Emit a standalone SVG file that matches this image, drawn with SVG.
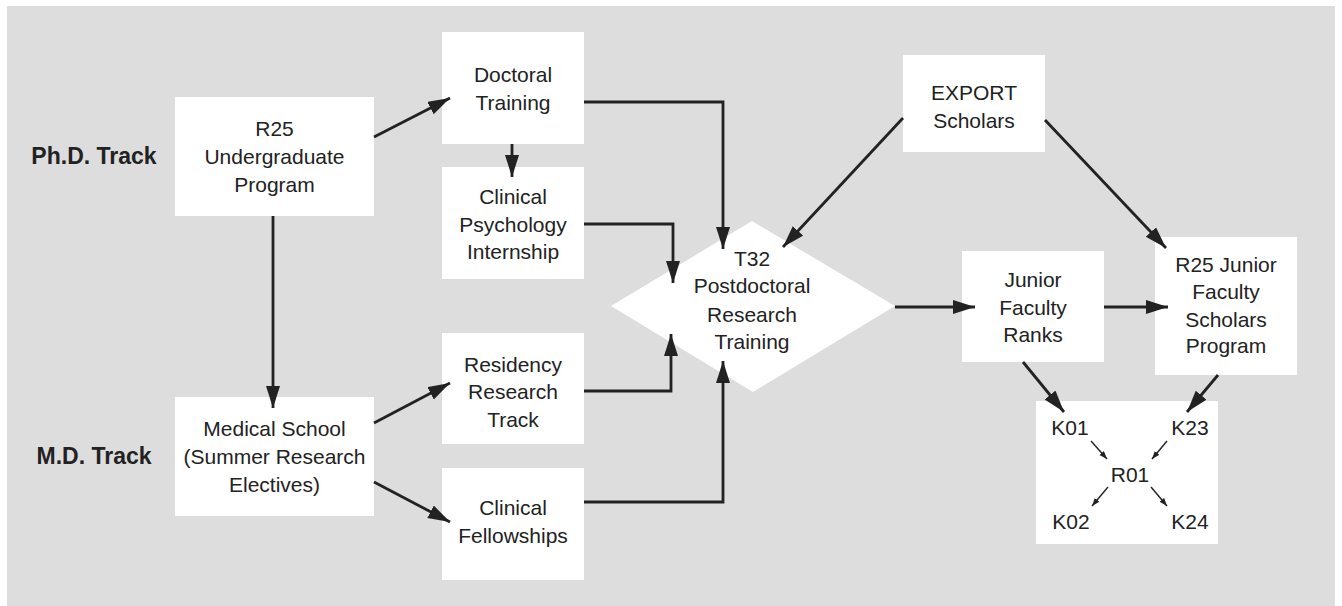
<svg xmlns="http://www.w3.org/2000/svg" width="1342" height="606" viewBox="0 0 1342 606">
<style>
.box{fill:#ffffff;stroke:none}
.t{font-family:"Liberation Sans",Arial,sans-serif;font-size:21px;fill:#222222;text-anchor:middle}
.lab{font-family:"Liberation Sans",Arial,sans-serif;font-size:23px;font-weight:bold;fill:#222222;text-anchor:middle}
.c{fill:none;stroke:#222222;stroke-width:2.8}
.cs{fill:none;stroke:#222222;stroke-width:1.4}
</style>
<defs>
<marker id="ah" markerUnits="userSpaceOnUse" markerWidth="23" markerHeight="15" refX="22" refY="7" orient="auto" viewBox="0 0 23 15">
<path d="M0,0 L22,7 L0,14 Z" fill="#222222"/>
</marker>
<marker id="ahs" markerUnits="userSpaceOnUse" markerWidth="9" markerHeight="7" refX="8" refY="3" orient="auto" viewBox="0 0 9 7">
<path d="M0,0 L8,3 L0,6 Z" fill="#222222"/>
</marker>
</defs>
<rect x="7" y="6" width="1328" height="600" fill="#dddddd"/>
<g id="label-phd"><text class="lab" x="94" y="164">Ph.D. Track</text></g>
<g id="label-md"><text class="lab" x="94" y="464">M.D. Track</text></g>
<g id="r25u"><rect class="box" x="175" y="97" width="199" height="119"/><text class="t" x="274.5" y="136">R25</text><text class="t" x="274.5" y="164">Undergraduate</text><text class="t" x="274.5" y="192">Program</text></g>
<g id="medical"><rect class="box" x="175" y="397" width="199" height="119"/><text class="t" x="274.5" y="436">Medical School</text><text class="t" x="274.5" y="464">(Summer Research</text><text class="t" x="274.5" y="492">Electives)</text></g>
<g id="doctoral"><rect class="box" x="442" y="32" width="142" height="112"/><text class="t" x="513" y="82">Doctoral</text><text class="t" x="513" y="110">Training</text></g>
<g id="clinpsych"><rect class="box" x="442" y="167" width="142" height="112"/><text class="t" x="513" y="204">Clinical</text><text class="t" x="513" y="232">Psychology</text><text class="t" x="513" y="259">Internship</text></g>
<g id="residency"><rect class="box" x="442" y="333" width="142" height="111"/><text class="t" x="513" y="372">Residency</text><text class="t" x="513" y="399">Research</text><text class="t" x="513" y="427">Track</text></g>
<g id="fellowships"><rect class="box" x="442" y="468" width="142" height="112"/><text class="t" x="513" y="515">Clinical</text><text class="t" x="513" y="543">Fellowships</text></g>
<g id="t32"><polygon class="box" points="611,306 752,221 895,306 753,392"/><text class="t" x="752" y="266">T32</text><text class="t" x="752" y="293">Postdoctoral</text><text class="t" x="752" y="322">Research</text><text class="t" x="752" y="349">Training</text></g>
<g id="export"><rect class="box" x="903" y="55" width="142" height="97"/><text class="t" x="974" y="100">EXPORT</text><text class="t" x="974" y="128">Scholars</text></g>
<g id="junior"><rect class="box" x="962" y="251" width="142" height="111"/><text class="t" x="1033" y="287">Junior</text><text class="t" x="1033" y="315">Faculty</text><text class="t" x="1033" y="342">Ranks</text></g>
<g id="r25j"><rect class="box" x="1155" y="237" width="142" height="138"/><text class="t" x="1226" y="272">R25 Junior</text><text class="t" x="1226" y="299">Faculty</text><text class="t" x="1226" y="327">Scholars</text><text class="t" x="1226" y="353">Program</text></g>
<g id="kbox"><rect class="box" x="1036" y="401" width="182" height="143"/><text class="t" x="1070" y="435">K01</text><text class="t" x="1190" y="435">K23</text><text class="t" x="1130" y="482">R01</text><text class="t" x="1071" y="529">K02</text><text class="t" x="1190" y="529">K24</text></g>
<g id="connectors">
<path class="c" d="M374,137 L450,98" marker-end="url(#ah)"/>
<path class="c" d="M273,216 L273,408" marker-end="url(#ah)"/>
<path class="c" d="M512,144 L512,177" marker-end="url(#ah)"/>
<path class="c" d="M584,102 H723 V249" marker-end="url(#ah)"/>
<path class="c" d="M584,224 H673 V283" marker-end="url(#ah)"/>
<path class="c" d="M374,423 L450,383" marker-end="url(#ah)"/>
<path class="c" d="M374,482 L450,522" marker-end="url(#ah)"/>
<path class="c" d="M584,391 H671 V334" marker-end="url(#ah)"/>
<path class="c" d="M584,502 H723 V361" marker-end="url(#ah)"/>
<path class="c" d="M903,118 L783,247" marker-end="url(#ah)"/>
<path class="c" d="M1045,120 L1166,248" marker-end="url(#ah)"/>
<path class="c" d="M895,307 L975,307" marker-end="url(#ah)"/>
<path class="c" d="M1104,307 L1168,307" marker-end="url(#ah)"/>
<path class="c" d="M1023,362 L1064,412" marker-end="url(#ah)"/>
<path class="c" d="M1218,375 L1187,412" marker-end="url(#ah)"/>
<path class="cs" d="M1091,441 L1107,459" marker-end="url(#ahs)"/>
<path class="cs" d="M1167,441 L1152,459" marker-end="url(#ahs)"/>
<path class="cs" d="M1108,487 L1092,506" marker-end="url(#ahs)"/>
<path class="cs" d="M1151,487 L1167,506" marker-end="url(#ahs)"/>
</g>
</svg>
